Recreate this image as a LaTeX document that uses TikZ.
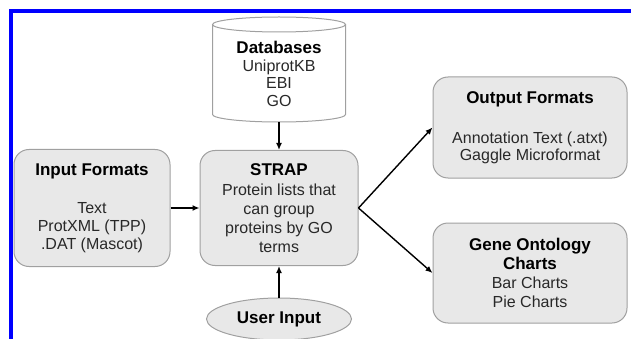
\documentclass[tikz,border=0pt]{standalone}
\usepackage{fontspec}
\setmainfont{Liberation Sans}
\usetikzlibrary{arrows.meta,shapes.geometric}
\definecolor{boxfill}{RGB}{232,232,232}
\definecolor{boxline}{RGB}{160,160,160}
\definecolor{txt}{RGB}{40,40,40}
\newcommand{\hd}[1]{{\fontsize{17}{19}\selectfont\bfseries\color{black}#1}}
\begin{document}
\begin{tikzpicture}[x=1pt,y=-1pt,
  box/.style={draw=boxline, fill=boxfill, line width=1pt, rounded corners=15pt, align=center, text=txt, inner sep=0pt},
  arr/.style={line width=1.4pt, -{Latex[length=7pt,width=6pt]}},
  body/.style={font=\fontsize{16}{#1}\selectfont}]
\useasboundingbox (0,0) rectangle (631,339);
% blue frame
\draw[blue, line width=4pt] (631,11.5) -- (11,11.5) -- (11,339);
% database cylinder
\draw[draw=boxline, fill=white, line width=1pt]
  (212.5,24.5) -- (212.5,114.5) arc[start angle=180, end angle=360, x radius=66.5pt, y radius=7.5pt]
  -- (345.5,24.5);
\draw[draw=boxline, fill=white, line width=1pt] (279,24.5) ellipse[x radius=66.5pt, y radius=7.5pt];
\node[align=center, text=txt, body=17.5, inner sep=0pt] (db) at (279,74)
  {\hd{Databases}\\ UniprotKB\\ EBI\\ GO};
\coordinate (dbbot) at (279,122);
% boxes
\node[box, body=18, minimum width=156pt, minimum height=117pt] (inp) at (92,208)
  {\hd{Input Formats}\\[20pt] Text\\ ProtXML (TPP)\\ .DAT (Mascot)};
\node[box, body=19, minimum width=158pt, minimum height=115pt] (strap) at (279,208)
  {\hd{STRAP}\\[1pt] Protein lists that\\ can group\\ proteins by GO\\ terms};
\node[box, body=17, minimum width=194pt, minimum height=101pt] (out) at (530,127.5)
  {\hd{Output Formats}\\[23pt] Annotation Text (.atxt)\\ Gaggle Microformat};
\node[box, body=19, minimum width=194pt, minimum height=100pt] (gochart) at (530,273)
  {\hd{Gene Ontology}\\ \hd{Charts}\\ Bar Charts\\ Pie Charts};
\node[ellipse, draw=boxline, fill=boxfill, line width=1pt, minimum width=145pt, minimum height=42pt, inner sep=0pt] (usr) at (279,319)
  {\hd{User Input}};
% connectors
\draw[arr] (dbbot) -- (strap.north);
\draw[arr] (inp.east) -- (strap.west);
\draw[arr] (usr.north) -- (strap.south);
\draw[arr] (strap.east) -- (out.west);
\draw[arr] (strap.east) -- (gochart.west);
\end{tikzpicture}
\end{document}
